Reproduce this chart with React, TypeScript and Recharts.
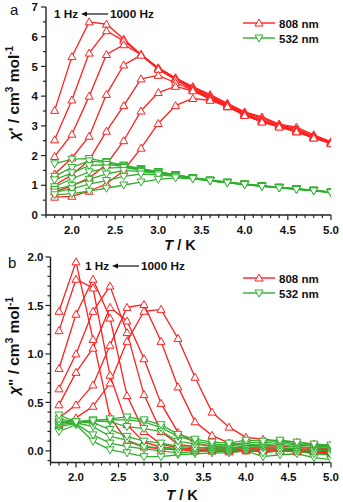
import React from 'react';
import { LineChart, Line, XAxis, YAxis } from 'recharts';

const temps = [1.8, 2.0, 2.2, 2.4, 2.6, 2.8, 3.0, 3.2, 3.4, 3.6, 3.8, 4.0, 4.2, 4.4, 4.6, 4.8, 5.0];

// panel a, chi', one row per frequency (1 Hz first, 1000 Hz last)
const realRed808 = [
  [3.52, 5.33, 6.5, 6.42, 5.92, 5.4, 4.95, 4.62, 4.32, 4.05, 3.76, 3.47, 3.3, 3.06, 2.96, 2.7, 2.47],
  [2.53, 3.87, 5.45, 6.2, 5.86, 5.4, 4.95, 4.6, 4.3, 4.02, 3.73, 3.45, 3.26, 3.05, 2.9, 2.66, 2.45],
  [1.97, 2.72, 4.0, 5.4, 5.73, 5.4, 4.92, 4.56, 4.26, 3.97, 3.7, 3.42, 3.2, 3.02, 2.86, 2.64, 2.44],
  [1.38, 1.92, 2.65, 4.06, 5.05, 5.38, 4.9, 4.55, 4.22, 3.95, 3.68, 3.4, 3.18, 3.0, 2.84, 2.62, 2.43],
  [1.0, 1.35, 1.85, 2.82, 3.68, 4.58, 4.7, 4.45, 4.2, 3.92, 3.66, 3.38, 3.15, 2.98, 2.82, 2.6, 2.42],
  [0.78, 0.98, 1.25, 1.7, 2.5, 3.5, 4.12, 4.33, 4.18, 3.9, 3.64, 3.36, 3.14, 2.97, 2.8, 2.6, 2.41],
  [0.6, 0.63, 0.8, 1.05, 1.5, 2.25, 3.08, 3.68, 3.92, 3.86, 3.65, 3.35, 3.13, 2.96, 2.8, 2.59, 2.4],
];

const realGreen532 = [
  [1.72, 1.88, 1.9, 1.8, 1.68, 1.56, 1.46, 1.36, 1.26, 1.18, 1.11, 1.05, 0.99, 0.94, 0.89, 0.84, 0.78],
  [1.3, 1.6, 1.82, 1.76, 1.66, 1.55, 1.45, 1.35, 1.25, 1.17, 1.1, 1.04, 0.98, 0.93, 0.88, 0.83, 0.77],
  [1.18, 1.42, 1.66, 1.7, 1.64, 1.53, 1.44, 1.34, 1.25, 1.17, 1.1, 1.04, 0.98, 0.93, 0.88, 0.83, 0.77],
  [0.95, 1.22, 1.45, 1.58, 1.6, 1.5, 1.42, 1.33, 1.24, 1.16, 1.09, 1.03, 0.97, 0.92, 0.87, 0.82, 0.76],
  [0.86, 1.0, 1.2, 1.38, 1.5, 1.46, 1.4, 1.32, 1.24, 1.16, 1.09, 1.03, 0.97, 0.92, 0.87, 0.82, 0.76],
  [0.77, 0.88, 1.04, 1.16, 1.3, 1.38, 1.35, 1.3, 1.23, 1.15, 1.09, 1.02, 0.97, 0.92, 0.87, 0.82, 0.75],
  [0.68, 0.72, 0.8, 0.9, 1.01, 1.11, 1.2, 1.25, 1.22, 1.15, 1.08, 1.02, 0.96, 0.91, 0.86, 0.81, 0.75],
];

// panel b, chi''
const imagRed808 = [
  [1.44, 1.95, 1.15, 0.35, 0.1, 0.04, 0.02, 0.01, 0.0, 0.0, -0.01, 0.0, -0.01, 0.0, -0.01, -0.02, -0.03],
  [1.24, 1.77, 1.68, 0.78, 0.27, 0.09, 0.04, 0.02, 0.01, 0.0, 0.0, 0.01, 0.0, 0.0, 0.0, -0.01, -0.02],
  [0.85, 1.41, 1.77, 1.37, 0.57, 0.2, 0.07, 0.03, 0.02, 0.01, 0.01, 0.01, 0.01, 0.01, 0.0, 0.0, -0.01],
  [0.64, 1.0, 1.44, 1.7, 1.22, 0.58, 0.2, 0.07, 0.04, 0.02, 0.02, 0.02, 0.02, 0.02, 0.01, 0.01, 0.0],
  [0.475, 0.81, 1.06, 1.48, 1.34, 0.95, 0.49, 0.19, 0.08, 0.05, 0.03, 0.03, 0.03, 0.03, 0.02, 0.02, 0.01],
  [0.34, 0.475, 0.68, 1.09, 1.48, 1.51, 1.13, 0.66, 0.3, 0.16, 0.08, 0.06, 0.05, 0.05, 0.04, 0.03, 0.02],
  [0.27, 0.34, 0.46, 0.7, 1.13, 1.44, 1.46, 1.16, 0.76, 0.4, 0.245, 0.14, 0.12, 0.1, 0.09, 0.07, 0.06],
];

const imagGreen532 = [
  [0.2, 0.27, 0.1, 0.01, -0.02, -0.06, -0.06, -0.04, -0.03, -0.02, -0.02, 0.0, -0.06, -0.04, -0.03, -0.07, -0.09],
  [0.25, 0.28, 0.165, 0.08, 0.045, 0.02, 0.0, -0.02, -0.01, 0.0, 0.0, 0.02, -0.02, 0.0, 0.0, -0.03, -0.04],
  [0.27, 0.29, 0.25, 0.15, 0.11, 0.045, 0.03, 0.02, 0.01, 0.02, 0.02, 0.04, 0.03, 0.03, 0.02, 0.0, 0.01],
  [0.29, 0.3, 0.29, 0.22, 0.15, 0.1, 0.08, 0.05, 0.03, 0.04, 0.03, 0.05, 0.05, 0.06, 0.04, 0.03, 0.03],
  [0.3, 0.3, 0.31, 0.3, 0.25, 0.23, 0.2, 0.1, 0.07, 0.05, 0.05, 0.07, 0.06, 0.08, 0.06, 0.05, 0.04],
  [0.33, 0.3, 0.32, 0.32, 0.32, 0.3, 0.24, 0.15, 0.1, 0.07, 0.06, 0.09, 0.08, 0.1, 0.07, 0.06, 0.05],
  [0.37, 0.3, 0.31, 0.33, 0.35, 0.32, 0.27, 0.17, 0.12, 0.09, 0.08, 0.11, 0.1, 0.11, 0.09, 0.07, 0.06],
];

const xMajor = [2.0, 2.5, 3.0, 3.5, 4.0, 4.5, 5.0];
const xMinor = [1.7, 1.8, 1.9, 2.0, 2.1, 2.2, 2.3, 2.4, 2.5, 2.6, 2.7, 2.8, 2.9, 3.0, 3.1, 3.2, 3.3, 3.4, 3.5, 3.6, 3.7, 3.8, 3.9, 4.0, 4.1, 4.2, 4.3, 4.4, 4.5, 4.6, 4.7, 4.8, 4.9, 5.0];
const yMajorA = [0, 1, 2, 3, 4, 5, 6, 7];
const yMinorA = [0, 0.5, 1, 1.5, 2, 2.5, 3, 3.5, 4, 4.5, 5, 5.5, 6, 6.5, 7];
const yMajorB = [0.0, 0.5, 1.0, 1.5, 2.0];
const yMinorB = [-0.1, 0, 0.1, 0.2, 0.3, 0.4, 0.5, 0.6, 0.7, 0.8, 0.9, 1.0, 1.1, 1.2, 1.3, 1.4, 1.5, 1.6, 1.7, 1.8, 1.9, 2.0];

const RED = '#ff1f1f';
const GREEN = '#2fb02f';
const FONT = '"Liberation Sans", Arial, sans-serif';

const buildRows = (red: number[][], green: number[][]) =>
  temps.map((t, i) => {
    const row: Record<string, number> = { T: t };
    red.forEach((s, k) => (row[`r${k}`] = s[i]));
    green.forEach((s, k) => (row[`g${k}`] = s[i]));
    return row;
  });

const dataA = buildRows(realRed808, realGreen532);
const dataB = buildRows(imagRed808, imagGreen532);

const isIn = (list: number[], v: number) => list.some((m) => Math.abs(m - v) < 1e-6);

const XTick = (props: any) => {
  const { x, y, payload } = props;
  const major = isIn(xMajor, payload.value);
  return (
    <g>
      <line x1={x} y1={y} x2={x} y2={y + (major ? 5 : 3)} stroke="#222" strokeWidth={1.2} />
      {major && (
        <text x={x} y={y + 18.5} textAnchor="middle" fontFamily={FONT} fontWeight="bold" fontSize={11.5} fill="#111">
          {payload.value.toFixed(1)}
        </text>
      )}
    </g>
  );
};

const makeYTick = (majors: number[], digits: number, gap: number) => (props: any) => {
  const { x, y, payload } = props;
  const major = isIn(majors, payload.value);
  return (
    <g>
      <line x1={x} y1={y} x2={x - (major ? 5 : 3)} y2={y} stroke="#222" strokeWidth={1.2} />
      {major && (
        <text x={x - gap} y={y + 4.2} textAnchor="end" fontFamily={FONT} fontWeight="bold" fontSize={11.5} fill="#111">
          {payload.value.toFixed(digits)}
        </text>
      )}
    </g>
  );
};

const TriUp = (props: any) => {
  const { cx, cy, index } = props;
  if (cx == null || cy == null) return <g key={index} />;
  return (
    <path
      key={index}
      d={`M${cx},${cy - 4} L${cx + 4},${cy + 3} L${cx - 4},${cy + 3} Z`}
      fill="#fff"
      stroke={RED}
      strokeWidth={1}
    />
  );
};

const TriDown = (props: any) => {
  const { cx, cy, index } = props;
  if (cx == null || cy == null) return <g key={index} />;
  return (
    <path
      key={index}
      d={`M${cx},${cy + 4} L${cx + 4},${cy - 3} L${cx - 4},${cy - 3} Z`}
      fill="#fff"
      stroke={GREEN}
      strokeWidth={1}
    />
  );
};

const Panel = ({ data, yDomain, yTicks, yTick, yWidth, height, xHeight }: any) => (
  <LineChart width={343} height={height} data={data} margin={{ top: 7, right: 12, bottom: 0, left: 0 }}>
    <XAxis
      dataKey="T"
      type="number"
      domain={[1.7, 5.0]}
      ticks={xMinor}
      interval={0}
      tickSize={0}
      tickMargin={0}
      height={xHeight}
      tick={<XTick />}
      axisLine={{ stroke: '#222', strokeWidth: 1.4 }}
      allowDataOverflow
    />
    <XAxis xAxisId="top" orientation="top" type="number" domain={[1.7, 5.0]} height={0} tick={false} tickLine={false} axisLine={{ stroke: '#222', strokeWidth: 1.4 }} />
    <YAxis
      type="number"
      domain={yDomain}
      ticks={yTicks}
      interval={0}
      tickSize={0}
      tickMargin={0}
      width={yWidth}
      tick={yTick}
      axisLine={{ stroke: '#222', strokeWidth: 1.4 }}
      allowDataOverflow
    />
    <YAxis yAxisId="right" orientation="right" type="number" domain={yDomain} width={0} tick={false} tickLine={false} axisLine={{ stroke: '#222', strokeWidth: 1.4 }} />
    {realRed808.map((_, k) => (
      <Line key={`r${k}`} dataKey={`r${k}`} stroke={RED} strokeWidth={1.3} dot={TriUp} isAnimationActive={false} />
    ))}
    {realGreen532.map((_, k) => (
      <Line key={`g${k}`} dataKey={`g${k}`} stroke={GREEN} strokeWidth={1.3} dot={TriDown} isAnimationActive={false} />
    ))}
  </LineChart>
);

const Legend = ({ x, y }: { x: number; y: number }) => (
  <g fontFamily={FONT} fontWeight="bold" fontSize={11.5} fill="#111">
    <line x1={x} y1={y} x2={x + 32} y2={y} stroke={RED} strokeWidth={1.4} />
    <path d={`M${x + 16},${y - 4} L${x + 20},${y + 3} L${x + 12},${y + 3} Z`} fill="#fff" stroke={RED} />
    <text x={x + 36} y={y + 4.5}>808 nm</text>
    <line x1={x} y1={y + 15} x2={x + 32} y2={y + 15} stroke={GREEN} strokeWidth={1.4} />
    <path d={`M${x + 16},${y + 19} L${x + 20},${y + 12} L${x + 12},${y + 12} Z`} fill="#fff" stroke={GREEN} />
    <text x={x + 36} y={y + 19.5}>532 nm</text>
  </g>
);

const FreqNote = ({ x, y }: { x: number; y: number }) => (
  <g fontFamily={FONT} fontWeight="bold" fontSize={11.8} fill="#111">
    <text x={x} y={y}>1 Hz</text>
    <line x1={x + 30} y1={y - 4} x2={x + 54} y2={y - 4} stroke="#111" strokeWidth={1.2} />
    <path d={`M${x + 27},${y - 4} L${x + 33},${y - 6.5} L${x + 33},${y - 1.5} Z`} fill="#111" />
    <text x={x + 56} y={y}>1000 Hz</text>
  </g>
);

const YLabel = ({ cx, cy, primes }: { cx: number; cy: number; primes: string }) => (
  <text
    transform={`translate(${cx},${cy}) rotate(-90)`}
    textAnchor="middle"
    fontFamily={FONT}
    fontWeight="bold"
    fontSize={15.5}
    fill="#111"
  >
    <tspan fontStyle="italic">χ</tspan>
    <tspan>{primes} / cm</tspan>
    <tspan fontSize={10} dy={-6}>3</tspan>
    <tspan dy={6}> mol</tspan>
    <tspan fontSize={10} dy={-6}>-1</tspan>
  </text>
);

const XLabel = ({ cx, y }: { cx: number; y: number }) => (
  <text x={cx} y={y} textAnchor="middle" fontFamily={FONT} fontWeight="bold" fontSize={14.5} fill="#111">
    <tspan fontStyle="italic">T</tspan>
    <tspan> / K</tspan>
  </text>
);

export default function App() {
  return (
    <div style={{ position: 'absolute', left: 0, top: 0, width: 343, height: 502, background: '#fff' }}>
      <div style={{ position: 'absolute', left: 0, top: 0 }}>
        <Panel data={dataA} yDomain={[0, 7]} yTicks={yMinorA} yTick={makeYTick(yMajorA, 0, 8)} yWidth={46} height={250} xHeight={35} />
      </div>
      <div style={{ position: 'absolute', left: 0, top: 250 }}>
        <Panel data={dataB} yDomain={[-0.12, 2.0]} yTicks={yMinorB} yTick={makeYTick(yMajorB, 1, 7)} yWidth={50.5} height={252} xHeight={39.5} />
      </div>
      <svg width={343} height={502} style={{ position: 'absolute', left: 0, top: 0, pointerEvents: 'none' }}>
        <text x={10} y={15} fontFamily={FONT} fontSize={15} fill="#111">a</text>
        <text x={8} y={268} fontFamily={FONT} fontSize={15} fill="#111">b</text>
        <FreqNote x={54} y={18} />
        <FreqNote x={85} y={270} />
        <Legend x={243} y={23} />
        <Legend x={243} y={278} />
        <YLabel cx={19} cy={93} primes="'" />
        <YLabel cx={19} cy={346} primes={'"'} />
        <XLabel cx={180} y={250} />
        <XLabel cx={182} y={500} />
      </svg>
    </div>
  );
}
